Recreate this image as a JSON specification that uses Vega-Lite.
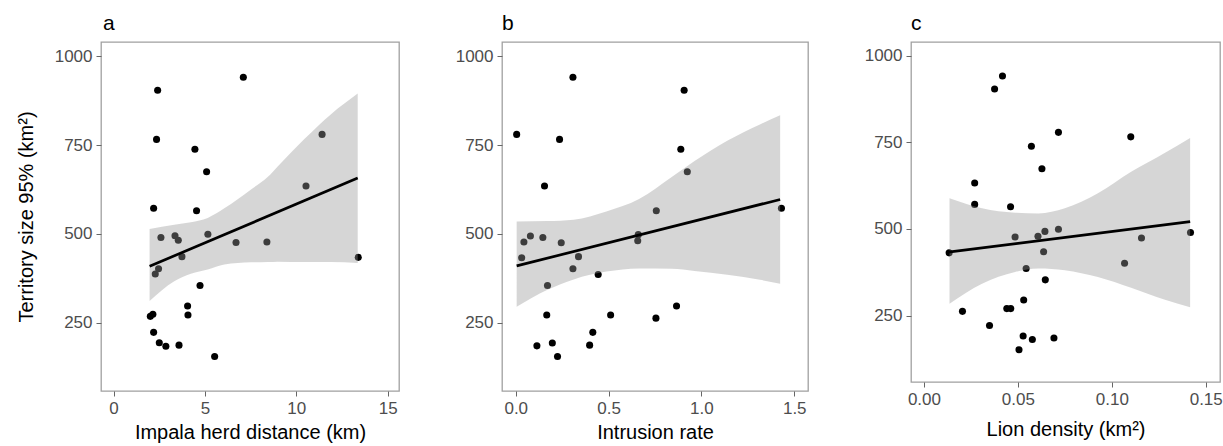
{
  "$schema": "https://vega.github.io/schema/vega-lite/v6.json",
  "padding": {"left": 15, "top": 12, "right": 5, "bottom": 0},
  "spacing": 54,
  "datasets": {
    "pa": [
      {"x": 7.10, "y": 941}, {"x": 2.41, "y": 904}, {"x": 2.35, "y": 766}, {"x": 4.45, "y": 738},
      {"x": 11.41, "y": 780}, {"x": 5.09, "y": 675}, {"x": 10.53, "y": 635}, {"x": 2.19, "y": 572},
      {"x": 4.54, "y": 565}, {"x": 2.59, "y": 490}, {"x": 3.36, "y": 495}, {"x": 3.54, "y": 482},
      {"x": 5.16, "y": 499}, {"x": 6.70, "y": 476}, {"x": 8.39, "y": 477}, {"x": 3.74, "y": 436},
      {"x": 13.39, "y": 434}, {"x": 2.46, "y": 402}, {"x": 2.28, "y": 387}, {"x": 4.73, "y": 355},
      {"x": 4.05, "y": 297}, {"x": 4.07, "y": 272}, {"x": 2.01, "y": 268}, {"x": 2.15, "y": 274},
      {"x": 2.19, "y": 223}, {"x": 2.50, "y": 194}, {"x": 2.86, "y": 184}, {"x": 3.58, "y": 187},
      {"x": 5.53, "y": 155}
    ],
    "ra": [
      {"x": 1.97, "lo": 311, "hi": 514}, {"x": 3.32, "lo": 367, "hi": 526}, {"x": 4.23, "lo": 388, "hi": 533},
      {"x": 5.15, "lo": 400, "hi": 545}, {"x": 6.06, "lo": 414, "hi": 572}, {"x": 7.52, "lo": 420, "hi": 625},
      {"x": 8.43, "lo": 421, "hi": 660}, {"x": 8.98, "lo": 422, "hi": 690}, {"x": 10.44, "lo": 421, "hi": 767},
      {"x": 11.90, "lo": 421, "hi": 837}, {"x": 13.36, "lo": 418, "hi": 895}
    ],
    "la": [{"x": 1.97, "y": 409}, {"x": 13.36, "y": 657}],
    "pb": [
      {"x": 0.308, "y": 941}, {"x": 0.907, "y": 904}, {"x": 0.005, "y": 780}, {"x": 0.236, "y": 766},
      {"x": 0.889, "y": 738}, {"x": 0.924, "y": 675}, {"x": 0.155, "y": 635}, {"x": 1.431, "y": 572},
      {"x": 0.757, "y": 565}, {"x": 0.044, "y": 477}, {"x": 0.079, "y": 494}, {"x": 0.146, "y": 490},
      {"x": 0.245, "y": 475}, {"x": 0.660, "y": 498}, {"x": 0.657, "y": 481}, {"x": 0.032, "y": 433},
      {"x": 0.338, "y": 436}, {"x": 0.308, "y": 402}, {"x": 0.444, "y": 386}, {"x": 0.171, "y": 355},
      {"x": 0.866, "y": 297}, {"x": 0.167, "y": 272}, {"x": 0.511, "y": 272}, {"x": 0.755, "y": 263},
      {"x": 0.415, "y": 223}, {"x": 0.114, "y": 185}, {"x": 0.197, "y": 193}, {"x": 0.398, "y": 187},
      {"x": 0.225, "y": 155}
    ],
    "rb": [
      {"x": 0.005, "lo": 295, "hi": 535}, {"x": 0.171, "lo": 343, "hi": 536}, {"x": 0.312, "lo": 372, "hi": 540},
      {"x": 0.488, "lo": 394, "hi": 563}, {"x": 0.664, "lo": 403, "hi": 598}, {"x": 0.840, "lo": 402, "hi": 660},
      {"x": 0.963, "lo": 396, "hi": 705}, {"x": 1.139, "lo": 385, "hi": 762}, {"x": 1.315, "lo": 371, "hi": 808},
      {"x": 1.424, "lo": 360, "hi": 834}
    ],
    "lb": [{"x": 0.005, "y": 410}, {"x": 1.424, "y": 597}],
    "pc": [
      {"x": 0.0418, "y": 942}, {"x": 0.0376, "y": 904}, {"x": 0.0716, "y": 779}, {"x": 0.1101, "y": 766},
      {"x": 0.0572, "y": 739}, {"x": 0.0628, "y": 674}, {"x": 0.0270, "y": 633}, {"x": 0.0270, "y": 571},
      {"x": 0.0461, "y": 564}, {"x": 0.0485, "y": 477}, {"x": 0.0607, "y": 479}, {"x": 0.0644, "y": 493},
      {"x": 0.0716, "y": 499}, {"x": 0.1158, "y": 474}, {"x": 0.1419, "y": 490}, {"x": 0.0637, "y": 434},
      {"x": 0.0134, "y": 431}, {"x": 0.0544, "y": 386}, {"x": 0.1068, "y": 401}, {"x": 0.0646, "y": 353},
      {"x": 0.0531, "y": 295}, {"x": 0.0441, "y": 270}, {"x": 0.0462, "y": 270}, {"x": 0.0205, "y": 262},
      {"x": 0.0349, "y": 221}, {"x": 0.0528, "y": 191}, {"x": 0.0577, "y": 181}, {"x": 0.0692, "y": 185},
      {"x": 0.0506, "y": 151}
    ],
    "rc": [
      {"x": 0.0136, "lo": 284, "hi": 589}, {"x": 0.0309, "lo": 342, "hi": 560}, {"x": 0.0485, "lo": 376, "hi": 547},
      {"x": 0.0609, "lo": 386, "hi": 545}, {"x": 0.0750, "lo": 381, "hi": 560}, {"x": 0.0926, "lo": 361, "hi": 603},
      {"x": 0.1103, "lo": 330, "hi": 665}, {"x": 0.1279, "lo": 296, "hi": 719}, {"x": 0.1417, "lo": 274, "hi": 763}
    ],
    "lc": [{"x": 0.0129, "y": 433}, {"x": 0.1417, "y": 521}]
  },
  "hconcat": [
    {
      "width": 298, "height": 349,
      "title": {"text": "a", "frame": "group", "offset": 8, "dx": 2},
      "layer": [
        {"data": {"name": "pa"}, "mark": {"type": "circle", "size": 50, "opacity": 1, "color": "black"},
         "encoding": {
           "x": {"field": "x", "type": "quantitative", "title": "Impala herd distance (km)", "scale": {"domain": [-0.69, 15.62], "nice": false, "zero": false}, "axis": {"values": [0, 5, 10, 15]}},
           "y": {"field": "y", "type": "quantitative", "title": "Territory size 95%  (km²)", "scale": {"domain": [58, 1040], "nice": false, "zero": false}, "axis": {"values": [250, 500, 750, 1000], "format": "d", "titlePadding": 18}}}},
        {"data": {"name": "ra"}, "mark": {"type": "area", "color": "#999999", "opacity": 0.4, "interpolate": "monotone"},
         "encoding": {
           "x": {"field": "x", "type": "quantitative", "title": "Impala herd distance (km)"},
           "y": {"field": "lo", "type": "quantitative", "title": "Territory size 95%  (km²)"},
           "y2": {"field": "hi"}}},
        {"data": {"name": "la"}, "mark": {"type": "line", "color": "black", "strokeWidth": 2.7},
         "encoding": {
           "x": {"field": "x", "type": "quantitative", "title": "Impala herd distance (km)"},
           "y": {"field": "y", "type": "quantitative", "title": "Territory size 95%  (km²)"}}}
      ]
    },
    {
      "width": 306, "height": 349,
      "title": {"text": "b", "frame": "group", "offset": 8},
      "layer": [
        {"data": {"name": "pb"}, "mark": {"type": "circle", "size": 50, "opacity": 1, "color": "black"},
         "encoding": {
           "x": {"field": "x", "type": "quantitative", "title": "Intrusion rate", "scale": {"domain": [-0.074, 1.574], "nice": false, "zero": false}, "axis": {"values": [0, 0.5, 1, 1.5], "format": ".1f"}},
           "y": {"field": "y", "type": "quantitative", "title": null, "scale": {"domain": [58, 1040], "nice": false, "zero": false}, "axis": {"values": [250, 500, 750, 1000], "format": "d"}}}},
        {"data": {"name": "rb"}, "mark": {"type": "area", "color": "#999999", "opacity": 0.4, "interpolate": "monotone"},
         "encoding": {
           "x": {"field": "x", "type": "quantitative", "title": "Intrusion rate"},
           "y": {"field": "lo", "type": "quantitative", "title": null},
           "y2": {"field": "hi"}}},
        {"data": {"name": "lb"}, "mark": {"type": "line", "color": "black", "strokeWidth": 2.7},
         "encoding": {
           "x": {"field": "x", "type": "quantitative", "title": "Intrusion rate"},
           "y": {"field": "y", "type": "quantitative", "title": null}}}
      ]
    },
    {
      "width": 309, "height": 340,
      "title": {"text": "c", "frame": "group", "offset": 8},
      "layer": [
        {"data": {"name": "pc"}, "mark": {"type": "circle", "size": 50, "opacity": 1, "color": "black"},
         "encoding": {
           "x": {"field": "x", "type": "quantitative", "title": "Lion density (km²)", "scale": {"domain": [-0.0069, 0.1576], "nice": false, "zero": false}, "axis": {"values": [0, 0.05, 0.1, 0.15], "format": ".2f", "titlePadding": 12}},
           "y": {"field": "y", "type": "quantitative", "title": null, "scale": {"domain": [58, 1040], "nice": false, "zero": false}, "axis": {"values": [250, 500, 750, 1000], "format": "d"}}}},
        {"data": {"name": "rc"}, "mark": {"type": "area", "color": "#999999", "opacity": 0.4, "interpolate": "monotone"},
         "encoding": {
           "x": {"field": "x", "type": "quantitative", "title": "Lion density (km²)"},
           "y": {"field": "lo", "type": "quantitative", "title": null},
           "y2": {"field": "hi"}}},
        {"data": {"name": "lc"}, "mark": {"type": "line", "color": "black", "strokeWidth": 2.7},
         "encoding": {
           "x": {"field": "x", "type": "quantitative", "title": "Lion density (km²)"},
           "y": {"field": "y", "type": "quantitative", "title": null}}}
      ]
    }
  ],
  "config": {
    "view": {"stroke": "#a0a0a0", "strokeWidth": 1.3},
    "axis": {"domain": false, "grid": false, "tickColor": "#666666", "tickSize": 5, "labelPadding": 4,
             "labelFont": "Liberation Sans", "labelFontSize": 17, "labelColor": "#4d4d4d",
             "titleFont": "Liberation Sans", "titleFontSize": 20, "titleFontWeight": "normal", "titleColor": "#000000", "titlePadding": 6},
    "title": {"font": "Liberation Sans", "fontSize": 21, "fontWeight": "normal", "anchor": "start", "color": "#000000"}
  }
}
